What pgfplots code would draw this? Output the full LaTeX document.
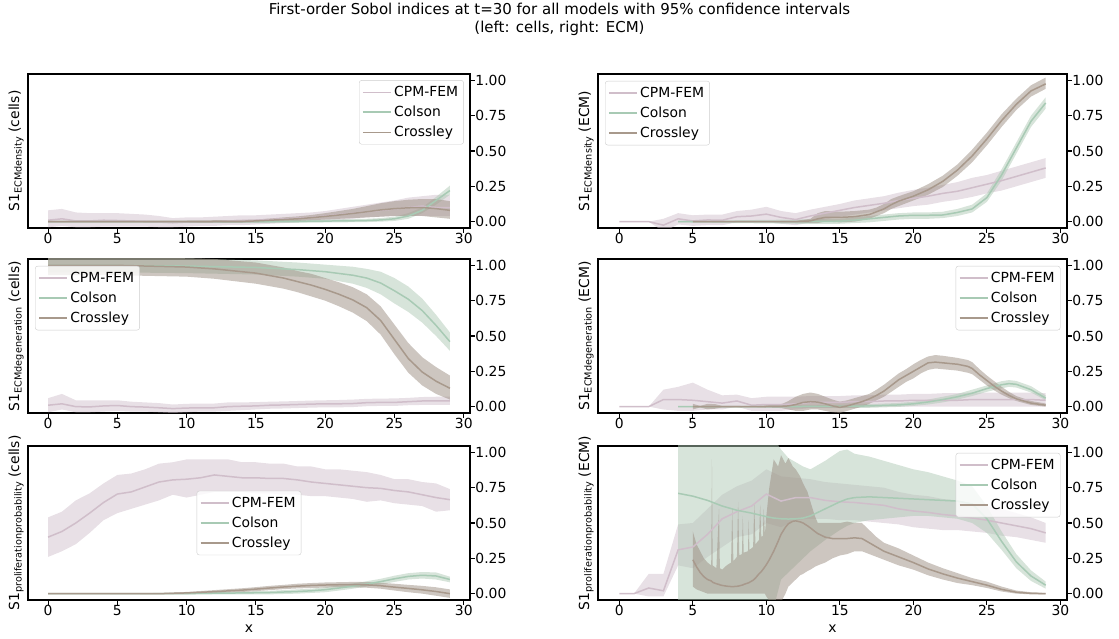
\documentclass[border=0pt]{standalone}
\usepackage{fontspec}
\setmainfont{DejaVu Sans}
\usepackage{pgfplots}
\pgfplotsset{compat=1.18}
\usepackage{pgfplotstable}
\usepgfplotslibrary{fillbetween}

\newcommand{\fs}{\fontsize{13.9}{16}\selectfont}
\newcommand{\ts}{\fontsize{15}{18}\selectfont}
\newcommand{\sub}[1]{\raisebox{-0.35ex}{\fontsize{9.7}{10}\selectfont #1}}

\definecolor{cpmL}{RGB}{208,190,202}
\definecolor{colL}{RGB}{168,202,180}
\definecolor{croL}{RGB}{168,153,140}
\definecolor{cpmF}{RGB}{209,193,205}
\definecolor{colF}{RGB}{175,201,181}
\definecolor{croF}{RGB}{155,141,129}

% ---------------- Panel A: cells, ECMdensity ----------------
\pgfplotstableread{
x m lo hi
0 0.010 -0.040 0.080
1 0.020 -0.030 0.090
2 0.005 -0.040 0.065
3 0.005 -0.040 0.060
4 0.010 -0.035 0.060
5 0.008 -0.035 0.060
6 0.005 -0.035 0.055
7 0.003 -0.035 0.050
8 -0.003 -0.040 0.040
9 -0.008 -0.040 0.025
10 -0.003 -0.035 0.030
11 0.000 -0.030 0.030
12 0.000 -0.030 0.035
13 0.005 -0.025 0.040
14 0.008 -0.025 0.045
15 0.010 -0.020 0.045
16 0.015 -0.015 0.050
17 0.020 -0.010 0.055
18 0.025 -0.005 0.060
19 0.030 0.000 0.065
20 0.040 0.005 0.075
21 0.050 0.010 0.090
22 0.060 0.020 0.105
23 0.070 0.030 0.120
24 0.080 0.035 0.135
25 0.090 0.040 0.150
26 0.100 0.040 0.170
27 0.110 0.040 0.180
28 0.100 0.040 0.190
29 0.100 0.040 0.190
}\tAcpm
\pgfplotstableread{
x m lo hi
0 0 -0.005 0.005
5 0 -0.005 0.005
10 0 -0.005 0.005
15 0 -0.008 0.008
18 0.002 -0.008 0.012
20 0.004 -0.006 0.015
22 0.006 -0.004 0.018
23 0.008 -0.003 0.020
24 0.012 0.000 0.025
25 0.020 0.005 0.035
26 0.040 0.020 0.060
27 0.080 0.060 0.100
28 0.150 0.120 0.175
29 0.220 0.190 0.255
}\tAcol
\pgfplotstableread{
x m lo hi
0 0 -0.005 0.005
5 0 -0.005 0.005
10 0 -0.008 0.008
14 0.002 -0.008 0.012
15 0.005 -0.005 0.015
16 0.010 -0.002 0.022
17 0.015 0.002 0.030
18 0.020 0.005 0.037
19 0.028 0.010 0.047
20 0.037 0.015 0.060
21 0.047 0.020 0.075
22 0.058 0.025 0.090
23 0.070 0.030 0.110
24 0.083 0.035 0.130
25 0.092 0.040 0.145
26 0.098 0.040 0.155
27 0.100 0.040 0.160
28 0.092 0.030 0.160
29 0.080 0.020 0.145
}\tAcro

% ---------------- Panel B: ECM, ECMdensity ----------------
\pgfplotstableread{
x m lo hi
0 0 0 0
1 0 0 0
2 0 0 0
3 -0.025 -0.070 0.020
4 0.020 -0.020 0.060
5 0.005 -0.030 0.045
6 0.012 -0.025 0.050
7 0.010 -0.025 0.050
8 0.035 -0.005 0.075
9 0.040 -0.005 0.085
10 0.053 0.000 0.105
11 0.030 -0.015 0.075
12 0.015 -0.025 0.060
13 0.040 -0.005 0.085
14 0.060 0.015 0.105
15 0.080 0.035 0.125
16 0.100 0.050 0.150
17 0.115 0.065 0.165
18 0.130 0.080 0.180
19 0.150 0.095 0.205
20 0.165 0.110 0.225
21 0.180 0.120 0.240
22 0.200 0.140 0.260
23 0.215 0.155 0.280
24 0.240 0.175 0.310
25 0.265 0.200 0.330
26 0.290 0.220 0.360
27 0.320 0.250 0.390
28 0.350 0.280 0.420
29 0.380 0.310 0.450
}\tBcpm
\pgfplotstableread{
x m lo hi
4 0 -0.005 0.005
8 0 -0.010 0.010
12 0 -0.015 0.015
15 0.003 -0.015 0.020
16 0.010 -0.010 0.030
17 0.020 -0.005 0.040
18 0.030 0.005 0.050
19 0.040 0.015 0.060
20 0.045 0.020 0.065
21 0.045 0.020 0.065
22 0.047 0.025 0.070
23 0.065 0.040 0.090
24 0.090 0.065 0.120
25 0.170 0.140 0.200
26 0.330 0.290 0.370
27 0.520 0.480 0.560
28 0.710 0.670 0.750
29 0.840 0.800 0.880
}\tBcol
\pgfplotstableread{
x m lo hi
5 0 -0.003 0.003
8 0 -0.003 0.003
12 0 -0.005 0.005
13 0.005 -0.010 0.020
13.5 0.020 -0.010 0.060
14 0.030 0.000 0.075
15 0.030 -0.005 0.070
16 0.035 0.000 0.075
17 0.050 0.020 0.085
17.5 0.070 0.040 0.100
18 0.090 0.060 0.125
18.5 0.120 0.090 0.160
19 0.145 0.110 0.180
20 0.180 0.150 0.215
21 0.225 0.190 0.265
22 0.285 0.245 0.325
23 0.365 0.325 0.405
24 0.465 0.420 0.510
25 0.585 0.540 0.630
26 0.715 0.670 0.760
27 0.830 0.790 0.870
28 0.925 0.885 0.965
29 0.975 0.940 1.020
}\tBcro

% ---------------- Panel C: cells, ECMdegeneration ----------------
\pgfplotstableread{
x m lo hi
0 0.010 -0.040 0.060
1 0.020 -0.020 0.090
2 0.000 -0.040 0.045
3 -0.002 -0.040 0.045
4 0.005 -0.035 0.045
5 0.008 -0.030 0.045
6 0.000 -0.035 0.035
7 -0.003 -0.035 0.030
8 -0.008 -0.040 0.025
9 -0.014 -0.045 0.015
10 -0.010 -0.040 0.020
11 -0.008 -0.035 0.022
12 -0.008 -0.035 0.022
13 0.000 -0.030 0.030
14 0.003 -0.025 0.030
15 0.005 -0.020 0.032
16 0.010 -0.015 0.035
17 0.012 -0.013 0.037
18 0.015 -0.010 0.040
19 0.018 -0.007 0.043
20 0.020 -0.005 0.045
21 0.020 -0.005 0.047
22 0.022 -0.003 0.050
23 0.028 0.003 0.055
24 0.030 0.005 0.057
25 0.030 0.005 0.058
26 0.035 0.010 0.062
27 0.040 0.012 0.068
28 0.040 0.012 0.070
29 0.040 0.012 0.070
}\tCcpm
\pgfplotstableread{
x m lo hi
0 1.000 0.950 1.060
5 0.999 0.950 1.060
10 0.995 0.945 1.050
15 0.985 0.935 1.035
18 0.970 0.920 1.020
20 0.955 0.905 1.005
22 0.930 0.870 0.990
23 0.910 0.840 0.975
24 0.875 0.795 0.955
25 0.820 0.730 0.910
26 0.760 0.670 0.850
27 0.680 0.595 0.765
28 0.575 0.500 0.650
29 0.460 0.395 0.525
}\tCcol
\pgfplotstableread{
x m lo hi
0 1.000 0.930 1.060
5 1.000 0.930 1.060
10 0.988 0.920 1.050
12 0.975 0.905 1.045
15 0.945 0.870 1.020
17 0.910 0.835 0.985
18 0.885 0.810 0.960
19 0.860 0.780 0.940
20 0.830 0.750 0.910
21 0.795 0.710 0.880
22 0.755 0.665 0.845
23 0.700 0.605 0.795
24 0.610 0.510 0.710
25 0.475 0.370 0.580
26 0.340 0.240 0.450
27 0.245 0.150 0.350
28 0.180 0.090 0.280
29 0.130 0.050 0.220
}\tCcro

% ---------------- Panel D: ECM, ECMdegeneration ----------------
\pgfplotstableread{
x m lo hi
0 0 0 0
1 0 0 0
2 0 0 0
3 0.050 -0.020 0.120
4 0.050 -0.030 0.140
5 0.045 -0.030 0.170
6 0.035 -0.020 0.120
7 0.025 -0.020 0.080
8 0.040 0.000 0.085
9 0.010 -0.030 0.060
10 0.015 -0.030 0.070
11 0.015 -0.030 0.070
12 0.020 -0.020 0.070
13 0.030 -0.010 0.075
14 0.030 -0.010 0.075
15 0.030 -0.010 0.075
16 0.035 -0.005 0.080
17 0.035 -0.005 0.080
18 0.040 0.000 0.085
19 0.040 0.000 0.085
20 0.045 0.000 0.090
21 0.045 0.000 0.090
22 0.045 0.000 0.095
23 0.045 0.000 0.095
24 0.050 0.000 0.100
25 0.050 0.000 0.100
26 0.050 0.000 0.100
27 0.050 0.000 0.100
28 0.050 0.000 0.100
29 0.045 0.000 0.095
}\tDcpm
\pgfplotstableread{
x m lo hi
4 0 -0.003 0.003
10 0 -0.005 0.005
15 0.002 -0.008 0.012
17 0.005 -0.008 0.018
19 0.012 -0.002 0.026
20 0.020 0.005 0.035
21 0.033 0.015 0.050
22 0.050 0.030 0.070
23 0.070 0.050 0.090
24 0.095 0.075 0.120
25 0.128 0.105 0.150
26 0.155 0.130 0.180
26.5 0.163 0.140 0.188
27 0.158 0.135 0.182
28 0.120 0.100 0.145
29 0.060 0.045 0.080
}\tDcol
\pgfplotstableread{
x m lo hi
5 0 -0.020 0.020
5.5 0 -0.005 0.005
6 0 -0.020 0.020
6.5 0 -0.015 0.018
7 0 -0.005 0.005
8 0 -0.005 0.005
9 0 -0.003 0.003
11 0.002 -0.010 0.015
11.5 0.005 -0.020 0.040
12 0.015 -0.030 0.070
12.5 0.030 -0.030 0.090
13 0.035 -0.020 0.100
13.5 0.032 -0.020 0.090
14 0.020 -0.030 0.070
14.5 0.005 -0.040 0.050
15 -0.005 -0.045 0.035
15.5 0.005 -0.030 0.045
16 0.020 -0.015 0.060
16.5 0.035 0.000 0.075
17 0.055 0.020 0.090
17.5 0.080 0.045 0.120
18 0.110 0.070 0.155
18.5 0.150 0.105 0.195
19 0.190 0.140 0.235
19.5 0.220 0.175 0.265
20 0.250 0.200 0.300
20.5 0.280 0.235 0.330
21 0.310 0.260 0.355
21.5 0.315 0.270 0.365
22 0.310 0.265 0.360
23 0.300 0.255 0.345
23.7 0.285 0.240 0.330
24 0.270 0.230 0.315
24.5 0.225 0.190 0.265
25 0.185 0.150 0.220
25.5 0.145 0.115 0.180
26 0.110 0.085 0.140
26.5 0.080 0.060 0.105
27 0.055 0.040 0.075
28 0.025 0.012 0.040
29 0.010 0.000 0.022
}\tDcro

% ---------------- Panel E: cells, proliferation probability ----------------
\pgfplotstableread{
x m lo hi
0 0.400 0.260 0.540
1 0.440 0.300 0.580
2 0.500 0.350 0.660
3 0.570 0.430 0.710
4 0.645 0.520 0.780
5 0.705 0.570 0.840
6 0.720 0.600 0.850
7 0.755 0.630 0.880
8 0.790 0.660 0.920
9 0.805 0.700 0.930
10 0.810 0.680 0.950
11 0.820 0.700 0.950
12 0.840 0.720 0.950
13 0.830 0.720 0.950
14 0.820 0.720 0.930
15 0.820 0.710 0.930
16 0.815 0.710 0.920
17 0.815 0.700 0.920
18 0.805 0.700 0.900
19 0.790 0.690 0.900
20 0.780 0.690 0.880
21 0.770 0.680 0.880
22 0.760 0.670 0.870
23 0.750 0.650 0.860
24 0.745 0.660 0.840
25 0.730 0.640 0.810
26 0.720 0.630 0.810
27 0.700 0.620 0.790
28 0.680 0.580 0.780
29 0.665 0.590 0.740
}\tEcpm
\pgfplotstableread{
x m lo hi
0 0 -0.003 0.003
10 0.000 -0.005 0.005
12 0.003 -0.005 0.010
14 0.005 -0.005 0.015
16 0.008 -0.005 0.020
18 0.015 0.000 0.030
19 0.020 0.005 0.035
20 0.028 0.010 0.045
21 0.040 0.022 0.058
22 0.053 0.035 0.072
23 0.068 0.050 0.088
24 0.085 0.065 0.105
25 0.105 0.083 0.127
26 0.122 0.100 0.145
27 0.130 0.107 0.153
28 0.125 0.100 0.150
29 0.100 0.080 0.120
}\tEcol
\pgfplotstableread{
x m lo hi
0 0 -0.002 0.002
8 0 -0.003 0.003
10 0.005 -0.003 0.012
12 0.014 0.003 0.025
14 0.025 0.012 0.038
15 0.032 0.018 0.046
16 0.040 0.025 0.055
17 0.047 0.032 0.062
18 0.053 0.037 0.070
19 0.058 0.040 0.075
20 0.061 0.043 0.079
21 0.063 0.045 0.081
22 0.064 0.045 0.083
23 0.062 0.042 0.082
24 0.056 0.035 0.077
25 0.046 0.022 0.070
26 0.037 0.010 0.062
27 0.027 0.000 0.055
28 0.015 -0.015 0.045
29 0.000 -0.030 0.030
}\tEcro

% ---------------- Panel F: ECM, proliferation probability ----------------
\pgfplotstableread{
x m lo hi
0 0 0 0
1 0 0 0
2 0.040 -0.020 0.140
3 0.020 -0.020 0.140
4 0.310 0.200 0.490
5 0.330 0.180 0.500
6 0.420 0.260 0.600
7 0.530 0.330 0.700
8 0.580 0.400 0.760
9 0.620 0.420 0.800
10 0.705 0.500 0.880
11 0.655 0.470 0.830
12 0.680 0.520 0.820
13 0.680 0.530 0.810
14 0.660 0.530 0.790
15 0.650 0.520 0.780
16 0.645 0.520 0.770
17 0.635 0.510 0.760
18 0.625 0.500 0.750
19 0.600 0.490 0.720
20 0.585 0.470 0.700
21 0.575 0.460 0.690
22 0.560 0.450 0.670
23 0.550 0.450 0.660
24 0.535 0.440 0.640
25 0.520 0.430 0.620
26 0.500 0.410 0.600
27 0.480 0.400 0.570
28 0.460 0.380 0.540
29 0.430 0.360 0.500
}\tFcpm
\pgfplotstableread{
x m lo hi
4 0.710 -0.300 1.300
5 0.690 -0.300 1.300
6 0.660 -0.300 1.300
7 0.620 -0.300 1.300
8 0.590 -0.300 1.300
9 0.570 -0.300 1.300
10 0.545 -0.300 1.300
10.5 0.535 -0.100 1.100
11 0.530 0.100 1.020
11.5 0.528 0.150 0.960
12 0.530 0.200 0.930
12.5 0.535 0.250 0.900
13 0.550 0.300 0.880
14 0.600 0.380 0.940
15 0.650 0.450 1.010
15.5 0.670 0.480 1.020
16 0.680 0.500 0.990
17 0.685 0.520 0.970
18 0.680 0.530 0.940
19 0.675 0.540 0.910
20 0.670 0.550 0.880
21 0.665 0.550 0.860
22 0.660 0.540 0.830
23 0.655 0.530 0.800
24 0.635 0.500 0.760
25 0.530 0.430 0.620
26 0.370 0.310 0.440
27 0.225 0.180 0.280
28 0.125 0.090 0.165
29 0.060 0.035 0.085
}\tFcol
\pgfplotstableread{
x m lo hi
5 0.240 0.050 0.440
5.25 0.190 0.030 0.350
5.5 0.150 0.020 0.300
5.75 0.120 0.010 0.250
6 0.100 0.000 0.220
6.25 0.090 0.000 0.200
6.3 0.085 0.000 0.950
6.35 0.080 0.000 0.200
6.6 0.070 0.000 0.180
6.78 0.065 0.000 0.600
6.84 0.062 0.000 0.180
7 0.058 0.000 0.170
7.3 0.053 0.000 0.200
7.6 0.050 0.000 0.220
7.68 0.050 0.000 0.600
7.76 0.050 0.000 0.230
8 0.052 0.000 0.260
8.08 0.053 0.000 0.650
8.16 0.055 0.000 0.270
8.34 0.060 0.000 0.280
8.4 0.062 0.000 0.550
8.46 0.065 0.000 0.290
8.75 0.075 0.000 0.300
8.8 0.077 0.000 0.520
8.85 0.080 0.000 0.310
9.1 0.095 0.000 0.330
9.18 0.102 0.000 0.640
9.26 0.110 0.000 0.350
9.5 0.140 0.000 0.380
9.58 0.148 0.000 0.630
9.66 0.156 0.000 0.400
9.76 0.170 0.000 0.410
9.82 0.178 0.000 0.600
9.9 0.190 0.000 0.420
10 0.205 -0.020 0.550
10.2 0.240 -0.050 0.750
10.5 0.300 -0.080 0.950
10.8 0.370 -0.080 0.900
11 0.420 -0.060 0.980
11.3 0.470 0.000 0.920
11.5 0.495 0.050 0.960
11.8 0.512 0.080 0.900
12 0.515 0.100 0.880
12.3 0.508 0.130 0.830
12.5 0.500 0.140 0.780
12.8 0.480 0.160 0.720
13 0.465 0.170 0.650
13.3 0.440 0.190 0.550
13.5 0.425 0.200 0.500
14 0.400 0.220 0.500
14.5 0.390 0.250 0.500
15 0.390 0.270 0.500
15.5 0.390 0.280 0.510
16 0.395 0.300 0.500
16.5 0.390 0.300 0.500
17 0.360 0.280 0.450
17.5 0.330 0.260 0.400
18 0.300 0.240 0.360
19 0.260 0.200 0.320
20 0.220 0.170 0.270
21 0.175 0.130 0.220
22 0.140 0.100 0.180
23 0.110 0.075 0.145
24 0.085 0.060 0.110
25 0.060 0.040 0.085
26 0.030 0.015 0.050
27 0.010 0.000 0.022
28 0.002 -0.005 0.010
29 0.000 -0.005 0.005
}\tFcro

\newcommand{\band}[3]{%
  \addplot[draw=none, forget plot, name path=#3u] table[x=x,y=hi]{#1};
  \addplot[draw=none, forget plot, name path=#3l] table[x=x,y=lo]{#1};
  \addplot[fill=#2, fill opacity=0.5, draw=none, forget plot] fill between[of=#3u and #3l];
}
\newcommand{\mline}[3]{%
  \addplot[#2, line width=1.5pt] table[x=x,y=m]{#1};
  \addlegendentry{#3}
}
\newcommand{\panel}[1]{%
  \expandafter\band\csname t#1cpm\endcsname{cpmF}{a}
  \expandafter\band\csname t#1col\endcsname{colF}{b}
  \expandafter\band\csname t#1cro\endcsname{croF}{c}
  \expandafter\mline\csname t#1cpm\endcsname{cpmL}{CPM-FEM}
  \expandafter\mline\csname t#1col\endcsname{colL}{Colson}
  \expandafter\mline\csname t#1cro\endcsname{croL}{Crossley}
}

\pgfplotsset{
  sobol/.style={
    scale only axis, height=154pt,
    xmin=-1.45, xmax=30.45, ymin=-0.045, ymax=1.045,
    xtick={0,5,10,15,20,25,30},
    ytick={0,0.25,0.5,0.75,1},
    yticklabels={0.00,0.25,0.50,0.75,1.00},
    yticklabel pos=right, ytick pos=right, xtick pos=left,
    tick align=outside, major tick length=4.9pt,
    tick style={black, line width=1.1pt},
    axis line style={line width=1.1pt},
    font=\fs, tick label style={font=\fs},
    yticklabel style={xshift=-3pt},
    xticklabel style={yshift=3pt},
    /pgf/number format/assume math mode=true,
    ylabel style={at={(rel axis cs:0,0.5)}, anchor=base, yshift=9pt, font=\fs},
    xlabel style={at={(rel axis cs:0.5,0)}, anchor=base, yshift=-33pt, font=\fs},
    legend cell align=left,
    legend style={font=\fs, draw=black!20, rounded corners=2.5pt, fill=white,
      fill opacity=0.8, text opacity=1, inner xsep=3pt, inner ysep=3.5pt,
      row sep=3pt, nodes={inner sep=2.5pt}},
    legend image code/.code={\draw[##1] (0pt,0pt) -- (28pt,0pt);},
  }
}

\begin{document}
\begin{tikzpicture}
\path (0pt,0pt) rectangle (1119pt,639pt);
\node[anchor=base, font=\ts] at (559.5pt,624pt) {First-order Sobol indices at t=30 for all models with 95\% confidence intervals};
\node[anchor=base, font=\ts] at (559.5pt,606.5pt) {(left: cells, right: ECM)};

\begin{axis}[sobol, at={(28pt,411pt)}, anchor=south west, width=442pt,
  ylabel={S1\sub{ECMdensity} (cells)},
  legend style={at={(0.986,0.96)}, anchor=north east}]
\panel{A}
\end{axis}

\begin{axis}[sobol, at={(598pt,411pt)}, anchor=south west, width=469pt,
  ylabel={S1\sub{ECMdensity} (ECM)},
  legend style={at={(0.015,0.955)}, anchor=north west}]
\panel{B}
\end{axis}

\begin{axis}[sobol, at={(28pt,226pt)}, anchor=south west, width=442pt,
  ylabel={S1\sub{ECMdegeneration} (cells)},
  legend style={at={(0.016,0.955)}, anchor=north west}]
\panel{C}
\end{axis}

\begin{axis}[sobol, at={(598pt,226pt)}, anchor=south west, width=469pt,
  ylabel={S1\sub{ECMdegeneration} (ECM)},
  legend style={at={(0.986,0.955)}, anchor=north east}]
\panel{D}
\end{axis}

\begin{axis}[sobol, at={(28pt,39pt)}, anchor=south west, width=442pt,
  ylabel={S1\sub{proliferationprobability} (cells)}, xlabel={x},
  legend style={at={(0.5,0.5)}, anchor=center}]
\panel{E}
\end{axis}

\begin{axis}[sobol, at={(598pt,39pt)}, anchor=south west, width=469pt,
  ylabel={S1\sub{proliferationprobability} (ECM)}, xlabel={x},
  legend style={at={(0.986,0.955)}, anchor=north east}]
\panel{F}
\end{axis}
\end{tikzpicture}
\end{document}
